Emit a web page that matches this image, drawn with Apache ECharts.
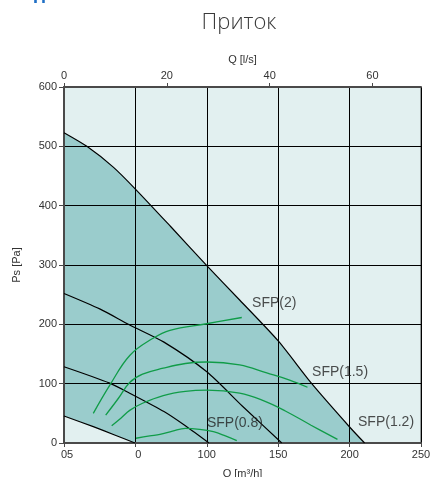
<!DOCTYPE html>
<html>
<head>
<meta charset="utf-8">
<script src="https://cdn.jsdelivr.net/npm/echarts@6/dist/echarts.min.js"></script>
<style>
html,body{margin:0;padding:0;background:#fff;}
#chart{width:430px;height:477px;}
</style>
</head>
<body>
<div id="chart"></div>
<script>
// ---- data (Q in m³/h, Ps in Pa) ----
const bottomTickValues = [0, 50, 100, 150, 200, 250];
const bottomTickLabels = ['05', '0', '100', '150', '200', '250'];
const topTicks = [0, 20, 40, 60];           // l/s
const yTicks = [0, 100, 200, 300, 400, 500, 600];

// fan curves (black)
const fanQ = [0, 16, 34.5, 50, 75, 100, 123, 150, 173.5, 200, 210.5];
const fanP = [523, 500, 465, 428, 364, 299, 241, 172, 100, 27, 0];
const curveAQ = [0, 25, 46, 70, 100, 125, 152.5];
const curveAP = [252, 226, 199, 170, 120, 62, 0];
const curveBQ = [0, 32, 46, 70, 85, 101.5];
const curveBP = [128.6, 101, 84, 53, 29, 0];
const curveCQ = [0, 20.5, 35, 49.7];
const curveCP = [45.5, 27.5, 14, 0];

// green curves
const g1Q = [20.5, 32.2, 46.2, 62, 74.2, 99.9, 124.5];
const g1P = [50, 98, 148, 176, 190, 201, 211.5];
const g2Q = [29.2, 38, 46, 55, 69.5, 85, 100, 123, 142, 158, 170.5];
const g2P = [47, 75, 102, 116, 126, 134, 136.5, 131.5, 118, 106, 94];
const g3Q = [33.4, 40, 46, 55, 69.5, 85, 100, 123, 140, 155, 173, 191.5];
const g3P = [29, 42, 55, 67, 80, 87, 89, 84, 71, 54, 30, 6];
const g4Q = [50.4, 60, 67.2, 76, 85, 95, 104.6, 113, 121];
const g4P = [8, 12, 14.5, 20, 24.7, 23, 19, 12, 4];

// SFP labels
const sfpLabels = ['SFP(2)', 'SFP(1.5)', 'SFP(1.2)', 'SFP(0.8)'];
const sfpQ = [131.7, 173.7, 205.9, 100.1];
const sfpP = [236, 120, 35.4, 33.7];

const zip = (xs, ys) => xs.map((x, i) => [x, ys[i]]);

const FONT = "'Liberation Sans', Arial, sans-serif";
const DARK = '#9acccc';
const LIGHT = '#e2f0f0';
const GREEN = '#109c48';

const chart = echarts.init(document.getElementById('chart'), null, {renderer: 'canvas'});

function blackLine(q, p) {
  return {
    type: 'line', data: zip(q, p), smooth: 0.25, showSymbol: false, z: 10,
    lineStyle: {color: '#000', width: 1.2}, silent: true, animation: false
  };
}
function greenLine(q, p) {
  return {
    type: 'line', data: zip(q, p), smooth: 0.4, showSymbol: false, z: 10,
    lineStyle: {color: GREEN, width: 1.3}, silent: true, animation: false
  };
}

const option = {
  animation: false,
  textStyle: {fontFamily: FONT},
  title: {
    text: 'Приток', left: 234, top: 7, textAlign: 'center',
    textStyle: {fontFamily: "'Open Sans', sans-serif", fontSize: 22, fontWeight: 300, color: '#3a3a3a'}
  },
  graphic: [{
    type: 'text', x: 33, y: -11, z: 100,
    style: {text: 'П', font: 'bold 18px sans-serif', fill: '#1f6fc5'}
  }],
  grid: {
    left: 64, right: 9, top: 87, bottom: 34, show: true,
    containLabel: false, outerBoundsMode: 'none',
    backgroundColor: LIGHT, borderColor: '#4a4a4a', borderWidth: 1
  },
  xAxis: [{
    type: 'value', position: 'bottom', min: 0, max: 250, interval: 50, z: 5,
    axisLine: {show: true, onZero: false, lineStyle: {color: '#4a4a4a', width: 2}},
    axisTick: {show: true, length: 4, lineStyle: {color: '#4a4a4a', width: 1}},
    splitLine: {show: true, lineStyle: {color: '#000', width: 1}},
    axisLabel: {
      color: '#333', fontSize: 11, fontFamily: FONT, margin: 6,
      formatter: v => {
        const i = bottomTickValues.indexOf(v);
        const s = i >= 0 ? bottomTickLabels[i] : '';
        return i === 0 || i === 1 ? '{s|' + s + '}' : s;
      },
      rich: {s: {fontSize: 11, color: '#333', fontFamily: FONT, padding: [0, 0, 0, 6]}}
    },
    name: 'Q [m³/h]', nameLocation: 'middle', nameGap: 25,
    nameTextStyle: {color: '#333', fontSize: 11, fontFamily: FONT}
  }, {
    type: 'value', position: 'top', min: 0, max: 250 / 3.6, z: 5,
    axisLine: {show: true, onZero: false, lineStyle: {color: '#4a4a4a', width: 2}},
    axisTick: {show: true, length: 4, customValues: topTicks, lineStyle: {color: '#4a4a4a', width: 1}},
    splitLine: {show: false},
    axisLabel: {customValues: topTicks, color: '#333', fontSize: 11, fontFamily: FONT, margin: 6},
    name: 'Q [l/s]', nameLocation: 'middle', nameGap: 20,
    nameTextStyle: {color: '#333', fontSize: 11, fontFamily: FONT}
  }],
  yAxis: {
    type: 'value', min: 0, max: 600, interval: 100, z: 5,
    axisLine: {show: true, onZero: false, lineStyle: {color: '#4a4a4a', width: 2}},
    axisTick: {show: true, length: 5, lineStyle: {color: '#4a4a4a', width: 1}},
    splitLine: {show: true, lineStyle: {color: '#000', width: 1}},
    axisLabel: {color: '#333', fontSize: 11, fontFamily: FONT, margin: 7,
      formatter: v => yTicks.indexOf(v) >= 0 ? String(v) : ''},
    name: 'Ps [Pa]', nameLocation: 'middle', nameGap: 42,
    nameTextStyle: {color: '#333', fontSize: 11, fontFamily: FONT}
  },
  series: [
    {
      type: 'line', data: zip(fanQ, fanP), smooth: 0.25, showSymbol: false, z: 1,
      lineStyle: {width: 0}, areaStyle: {color: DARK, opacity: 1}, silent: true
    },
    {
      type: 'line', data: zip(curveCQ, curveCP), smooth: 0.25, showSymbol: false, z: 2,
      lineStyle: {width: 0}, areaStyle: {color: LIGHT, opacity: 1}, silent: true
    },
    blackLine(fanQ, fanP),
    blackLine(curveAQ, curveAP),
    blackLine(curveBQ, curveBP),
    blackLine(curveCQ, curveCP),
    greenLine(g1Q, g1P),
    greenLine(g2Q, g2P),
    greenLine(g3Q, g3P),
    greenLine(g4Q, g4P),
    {
      type: 'scatter', z: 11, symbolSize: 0, silent: true,
      data: sfpLabels.map((n, i) => ({name: n, value: [sfpQ[i], sfpP[i]]})),
      label: {show: true, position: 'right', distance: 0, formatter: p => p.name,
        color: '#222', fontSize: 14, fontFamily: FONT}
    }
  ]
};
chart.setOption(option);
</script>
</body>
</html>
